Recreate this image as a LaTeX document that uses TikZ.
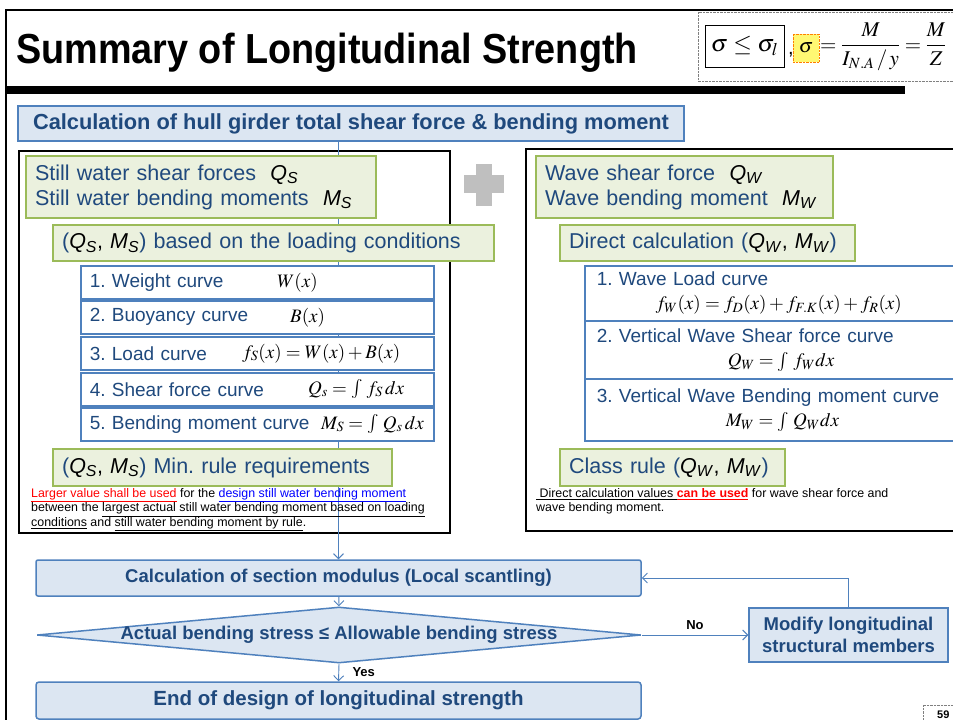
\documentclass[tikz,border=0pt]{standalone}
\usepackage{amsmath}
\usepackage{mathptmx}
\usepackage[no-math]{fontspec}
\setmainfont{Liberation Sans}
\usetikzlibrary{positioning, shapes.geometric, arrows.meta}

\definecolor{txtblue}{HTML}{1F497D}
\definecolor{boxblue}{HTML}{DCE6F2}
\definecolor{lineblue}{HTML}{4F81BD}
\definecolor{boxgreen}{HTML}{EBF1DE}
\definecolor{linegreen}{HTML}{9BBB59}
\definecolor{plusgray}{HTML}{BFBFBF}
\newcommand{\symsub}[2]{\textcolor{black}{\textit{#1}\textsubscript{\textit{#2}}}}
\frenchspacing

\begin{document}
\begin{tikzpicture}[x=1pt, y=-1pt,
	bluebox/.style={draw=lineblue, line width=1.5pt, fill=boxblue, text=txtblue, font=\bfseries\fontsize{18.5}{22}\selectfont},
	greenbox/.style={draw=linegreen, line width=2.2pt, fill=boxgreen, text=txtblue, anchor=north west, align=left, inner xsep=9pt, inner ysep=0pt, font=\fontsize{21.5}{25}\selectfont},
	listbox/.style={draw=lineblue, line width=1.5pt, fill=white, text=txtblue, anchor=north west, align=left, inner xsep=9pt, inner ysep=0pt, font=\fontsize{19}{24}\selectfont},
	formula/.style={anchor=west, inner sep=0pt, font=\fontsize{19}{19}\selectfont},
	note/.style={anchor=north west, align=left, inner sep=0pt, font=\fontsize{12.4}{14.5}\selectfont},
	flow/.style={draw=lineblue, line width=0.9pt, -{Straight Barb[length=5pt, width=10pt]}}]
	\useasboundingbox (0,0) rectangle (953,720);
	\fill[white] (0,0) rectangle (953,720);
	
	% header
	\draw[line width=2pt] (5,10) -- (960,10);
	\draw[line width=2pt] (6,10) -- (6,725);
	\fill (7,86) rectangle (905,94);
	\node[anchor=base west, inner sep=0pt, font=\bfseries\fontsize{42}{42}\selectfont] (title) at (16,63) {\scalebox{0.9}[1]{Summary of Longitudinal Strength}};
	
	\draw[gray, densely dotted] (698,12) rectangle (990,81);
	\node[draw, line width=0.8pt, minimum width=79, minimum height=42, inner sep=0pt, font=\fontsize{24}{24}\selectfont] (limit) at (744.5,46) {$\sigma\leq\sigma_l$};
	\node[anchor=base west, inner sep=0pt, font=\fontsize{20}{20}\selectfont] (comma) at (788,54) {,};
	\node[draw=orange, densely dotted, fill=yellow!55, minimum width=26, minimum height=28, inner sep=0pt, font=\fontsize{20}{20}\selectfont] (sig) at (806,48) {$\sigma$};
	\node[anchor=west, inner sep=0pt, font=\fontsize{21}{21}\selectfont] (bending) at (820,47) {$=\dfrac{M}{I_{N.A}\,/\,y}=\dfrac{M}{Z}$};
	
	\draw[gray, densely dotted] (923,725) -- (923,705) -- (960,705);
	\node[anchor=base west, inner sep=0pt, font=\bfseries\fontsize{11}{11}\selectfont] (page) at (937,718) {59};
	
	% frames
	\node[bluebox, minimum width=666, minimum height=35, font=\bfseries\fontsize{21.8}{24}\selectfont] (hull) at (351,123.5) {Calculation of hull girder total shear force \& bending moment};
	\node[draw, line width=2pt, anchor=north west, minimum width=431, minimum height=382] (leftframe) at (18,150) {};
	\node[draw, line width=2pt, anchor=north west, minimum width=460, minimum height=382] (rightframe) at (525,148) {};
	\fill[plusgray] (476,164) rectangle (492,206);
	\fill[plusgray] (464,175) rectangle (504,193);
	
	% flow chart
	\node[bluebox, minimum width=605, minimum height=36, rounded corners=2pt] (section) at (338.5,578) {Calculation of section modulus (Local scantling)};
	\node[diamond, draw=lineblue, line width=1.5pt, fill=boxblue, minimum width=604, minimum height=56, inner sep=0pt] (check) at (339,635) {};
	\node[text=txtblue, font=\bfseries\fontsize{18.5}{22}\selectfont] (checktext) at (check) {Actual bending stress ≤ Allowable bending stress};
	\node[bluebox, minimum width=199, minimum height=54, align=center] (modify) at (848.5,635) {Modify longitudinal\\structural members};
	\node[bluebox, minimum width=605, minimum height=37, rounded corners=3pt, font=\bfseries\fontsize{20.5}{24}\selectfont] (finish) at (338.5,700.5) {End of design of longitudinal strength};
	
	\draw[flow] (section.north |- hull.south) -- (section.north);
	\draw[flow] (section) -- (check.north);
	\draw[flow] (check.east) -- (modify.west) node[midway, above=2pt, text=black, font=\bfseries\fontsize{13}{13}\selectfont] {No};
	\draw[flow] (modify.north) |- (section.east);
	\draw[flow] (check.south) -- (finish.north) node[midway, right=10pt, text=black, font=\bfseries\fontsize{13}{13}\selectfont] {Yes};
	
	% still water side
	\node[greenbox, minimum width=350, minimum height=62, text width=332] (stillwater) at (25,155) {Still water shear forces\ \ \symsub{Q}{S}\\Still water bending moments\ \ \symsub{M}{S}};
	\node[greenbox, minimum width=441, minimum height=36, text width=423] (loading) at (52,224) {(\symsub{Q}{S}\textcolor{black}{,} \symsub{M}{S}) based on the loading conditions};
	\foreach \n/\y/\txt in {1/265/Weight curve, 2/300/Buoyancy curve, 3/336/Load curve, 4/372/Shear force curve, 5/407/Bending moment curve}
		\node[listbox, minimum width=353, minimum height=33, text width=335] (sw\n) at (80,\y) {\n. \txt};
	\foreach \n/\x/\eq in {1/277/{$W(x)$}, 2/290/{$B(x)$}, 3/242/{$f_S(x)=W(x)+B(x)$}, 4/308/{$Q_s=\int\, f_S\,dx$}, 5/321/{$M_S=\int\, Q_s\,dx$}}
		\node[formula] at (\x,0 |- sw\n) {\eq};
	\node[greenbox, minimum width=339, minimum height=37, text width=321] (minrule) at (52,448) {(\symsub{Q}{S}\textcolor{black}{,} \symsub{M}{S}) Min. rule requirements};
	\node[note] (rulenote) at (31,488) {\textcolor{red}{\underline{Larger value shall be used}} for the \textcolor{blue}{\underline{design still water bending moment}}\\between the \underline{largest actual still water bending moment based on loading}\\\underline{conditions} and \underline{still water bending moment by rule}.};
	
	% wave side
	\node[greenbox, minimum width=297, minimum height=62, text width=279] (wave) at (535,155) {Wave shear force\ \ \symsub{Q}{W}\\Wave bending moment\ \ \symsub{M}{W}};
	\node[greenbox, minimum width=295, minimum height=36, text width=277] (direct) at (559,224) {Direct calculation (\symsub{Q}{W}\textcolor{black}{,} \symsub{M}{W})};
	\node[listbox, inner xsep=12pt, minimum width=404, minimum height=55, text width=380] (wv1) at (584,265) {1. Wave Load curve\\\hspace*{59pt}\textcolor{black}{$f_W(x)=f_D(x)+f_{F.K}(x)+f_R(x)$}};
	\node[listbox, inner xsep=12pt, minimum width=404, minimum height=58, text width=380] (wv2) at (584,320) {2. Vertical Wave Shear force curve\\\hspace*{131pt}\textcolor{black}{$Q_W=\int\, f_W dx$}};
	\node[listbox, inner xsep=12pt, minimum width=404, minimum height=62, text width=380] (wv3) at (584,378) {3. Vertical Wave Bending moment curve\\\hspace*{129pt}\textcolor{black}{$M_W=\int\, Q_W dx$}};
	\node[greenbox, minimum width=225, minimum height=37, text width=207] (classrule) at (559,448) {Class rule (\symsub{Q}{W}\textcolor{black}{,} \symsub{M}{W})};
	\node[note] (wavenote) at (536,488) {\underline{\ Direct calculation values\ }\textcolor{red}{\underline{\bfseries can be used}} for wave shear force and\\wave bending moment.};
\end{tikzpicture}
\end{document}
